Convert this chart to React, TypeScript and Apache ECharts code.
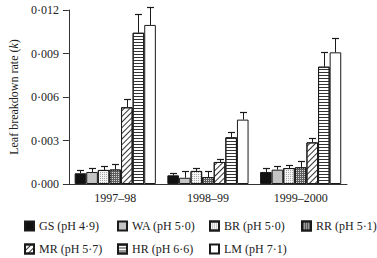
import React, { useEffect, useRef } from "react";
import * as echarts from "echarts";

const categories = ["1997\u201398", "1998\u201399", "1999\u20132000"];
const seriesNames = [
  "GS (pH 4\u00b79)",
  "WA (pH 5\u00b70)",
  "BR (pH 5\u00b70)",
  "RR (pH 5\u00b71)",
  "MR (pH 5\u00b77)",
  "HR (pH 6\u00b76)",
  "LM (pH 7\u00b71)",
];
const gsValues = [0.00074, 0.0006, 0.00083];
const waValues = [0.00083, 0.00043, 0.00099];
const brValues = [0.00097, 0.0009, 0.0011];
const rrValues = [0.001, 0.00048, 0.00115];
const mrValues = [0.00529, 0.00152, 0.00287];
const hrValues = [0.01043, 0.00322, 0.00809];
const lmValues = [0.01097, 0.00444, 0.00908];

const gsErr = [0.00026, 0.00016, 0.00029];
const waErr = [0.00029, 0.00044, 0.00025];
const brErr = [0.00029, 0.00022, 0.00021];
const rrErr = [0.0004, 0.00039, 0.00044];
const mrErr = [0.00059, 0.00018, 0.00032];
const hrErr = [0.00127, 0.00034, 0.00099];
const lmErr = [0.00123, 0.00053, 0.00099];

const yTicks = [0, 0.003, 0.006, 0.009, 0.012];

const allValues = [gsValues, waValues, brValues, rrValues, mrValues, hrValues, lmValues];
const allErr = [gsErr, waErr, brErr, rrErr, mrErr, hrErr, lmErr];

const BW = 11.6;
const FONT = "Liberation Serif";

const styles: any[] = [
  { color: "#111111" },
  { color: "#c4c4c4" },
  {
    color: "#f4f4f4",
    decal: { symbol: "rect", symbolSize: 1, color: "#a8a8a8", dashArrayX: [1, 1], dashArrayY: [1, 1], rotation: 0 },
  },
  {
    color: "#5e5e5e",
    decal: { symbol: "rect", symbolSize: 1, color: "#d8d8d8", dashArrayX: [1, 1], dashArrayY: [1, 1], rotation: 0 },
  },
  {
    color: "#ffffff",
    decal: { symbol: "rect", symbolSize: 1, color: "#333333", dashArrayX: [1, 0], dashArrayY: [1, 2.5], rotation: -Math.PI / 4 },
  },
  {
    color: "#ffffff",
    decal: { symbol: "rect", symbolSize: 1, color: "#333333", dashArrayX: [1, 0], dashArrayY: [1, 2], rotation: 0 },
  },
  { color: "#ffffff" },
];

const legendPos = [
  [24, 220],
  [117, 220],
  [209, 220],
  [301, 220],
  [24, 243],
  [117, 243],
  [209, 243],
];

export default function App() {
  const ref = useRef<HTMLDivElement>(null);
  useEffect(() => {
    if (!ref.current) return;
    const chart = echarts.init(ref.current, null, { renderer: "svg" });

    const errData: number[][] = [];
    allValues.forEach((vals, s) => {
      vals.forEach((v, c) => {
        errData.push([c, s, v, v + allErr[s][c]]);
      });
    });

    const barSeries = seriesNames.map((name, i) => ({
      name,
      type: "bar",
      data: allValues[i],
      barWidth: BW,
      barGap: "0%",
      itemStyle: {
        color: styles[i].color,
        decal: styles[i].decal,
        borderColor: "#1a1a1a",
        borderWidth: 1,
      },
      z: 2,
    }));

    const option: any = {
      animation: false,
      aria: { enabled: false, decal: { show: false } },
      textStyle: { fontFamily: FONT },
      grid: { left: 62, right: 30, top: 10, bottom: 74 },
      legend: seriesNames.map((n, i) => ({
        data: [n],
        left: legendPos[i][0],
        top: legendPos[i][1],
        itemWidth: 9,
        itemHeight: 9,
        padding: 0,
        selectedMode: false,
        icon: "rect",
        textStyle: { fontFamily: FONT, fontSize: 12, color: "#222" },
      })),
      xAxis: {
        type: "category",
        data: categories,
        axisLine: { lineStyle: { color: "#333", width: 1 } },
        axisTick: { inside: true, length: 4, lineStyle: { color: "#333" } },
        axisLabel: { fontFamily: FONT, fontSize: 12, color: "#222", margin: 8 },
      },
      yAxis: {
        type: "value",
        min: 0,
        max: 0.012,
        interval: 0.003,
        name: "Leaf breakdown rate ({i|k})",
        nameLocation: "middle",
        nameGap: 44,
        nameTextStyle: {
          fontFamily: FONT,
          fontSize: 12,
          color: "#222",
          rich: { i: { fontStyle: "italic", fontFamily: FONT, fontSize: 12, color: "#222" } },
        },
        axisLine: { show: true, lineStyle: { color: "#333", width: 1 } },
        axisTick: { show: true, length: 6, lineStyle: { color: "#333" } },
        splitLine: { show: false },
        axisLabel: {
          fontFamily: FONT,
          fontSize: 12,
          color: "#222",
          margin: 10,
          formatter: (v: number) => {
            const t = yTicks.find((x) => Math.abs(x - v) < 1e-9);
            return (t !== undefined ? t : v).toFixed(3).replace(".", "\u00b7");
          },
        },
      },
      series: [
        ...barSeries,
        {
          name: "err",
          type: "custom",
          z: 5,
          data: errData,
          encode: { x: 0, y: [2, 3] },
          renderItem: (params: any, api: any) => {
            const c = api.value(0);
            const s = api.value(1);
            const v = api.value(2);
            const e = api.value(3);
            const p0 = api.coord([c, v]);
            const p1 = api.coord([c, e]);
            const x = Math.round(p0[0] + (s - 3) * BW) + 0.5;
            const y1 = Math.round(p1[1]) + 0.5;
            return {
              type: "group",
              children: [
                {
                  type: "line",
                  shape: { x1: x, y1: p0[1], x2: x, y2: y1 },
                  style: { stroke: "#1a1a1a", lineWidth: 1 },
                },
                {
                  type: "line",
                  shape: { x1: x - 3.5, y1: y1, x2: x + 3.5, y2: y1 },
                  style: { stroke: "#1a1a1a", lineWidth: 1.2 },
                },
              ],
            };
          },
        },
      ],
    };
    chart.setOption(option);
    return () => chart.dispose();
  }, []);
  return (
    <div
      ref={ref}
      style={{ position: "fixed", left: 0, top: 0, width: 377, height: 258, background: "#fff" }}
    />
  );
}
